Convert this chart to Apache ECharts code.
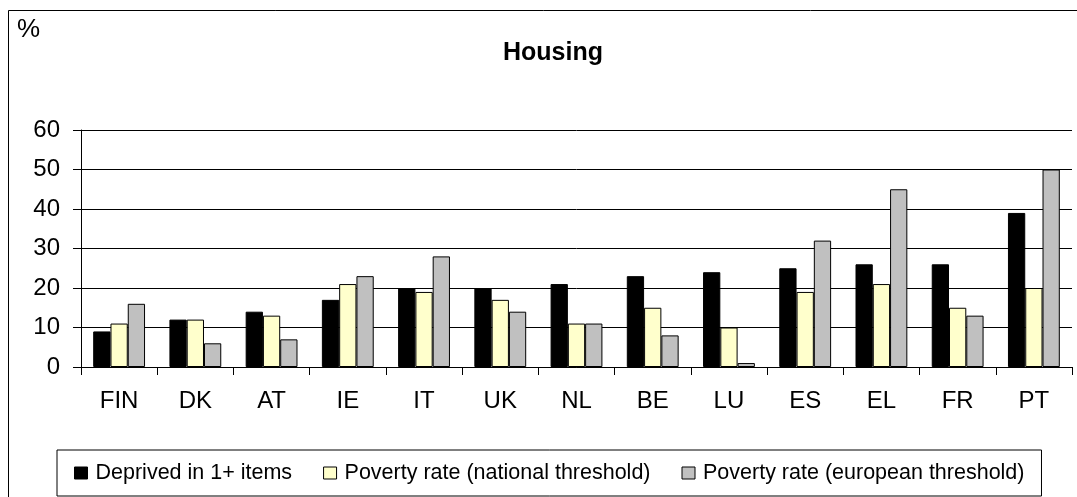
<!DOCTYPE html>
<html>
<head>
<meta charset="utf-8">
<script src="https://cdn.jsdelivr.net/npm/echarts@6/dist/echarts.min.js"></script>
<style>
  html, body { margin: 0; padding: 0; background: #fff; }
  #chart { width: 1077px; height: 497px; }
</style>
</head>
<body>
<div id="chart"></div>
<script>
// Countries along the category axis
const countries = ['FIN', 'DK', 'AT', 'IE', 'IT', 'UK', 'NL', 'BE', 'LU', 'ES', 'EL', 'FR', 'PT'];

// Share of people (%) per indicator
const deprived = [9, 12, 14, 17, 20, 20, 21, 23, 24, 25, 26, 26, 39];
const povertyNational = [11, 12, 13, 21, 19, 17, 11, 15, 10, 19, 21, 15, 20];
const povertyEuropean = [16, 6, 7, 23, 28, 14, 11, 8, 1, 32, 45, 13, 50];

const yTicks = [0, 10, 20, 30, 40, 50, 60];

const seriesNames = [
  'Deprived in 1+ items',
  'Poverty rate (national threshold)',
  'Poverty rate (european threshold)'
];

const FONT = '"Liberation Sans", Arial, sans-serif';

const chart = echarts.init(document.getElementById('chart'), null, { renderer: 'canvas' });

function barSeries(name, data, color) {
  return {
    name: name,
    type: 'bar',
    data: data,
    barGap: '0%',
    barCategoryGap: '32%',
    itemStyle: { color: color, borderColor: '#000', borderWidth: 1 },
    emphasis: { disabled: true }
  };
}

chart.setOption({
  animation: false,
  backgroundColor: '#fff',
  textStyle: { fontFamily: FONT },
  title: {
    text: 'Housing',
    left: 548,
    textAlign: 'center',
    top: 36,
    textStyle: { fontFamily: FONT, fontSize: 25, fontWeight: 'bold', color: '#000' }
  },
  graphic: [
    {
      type: 'rect',
      shape: { x: 8.5, y: 10.5, width: 1200, height: 700 },
      style: { fill: 'none', stroke: '#000', lineWidth: 1 },
      silent: true,
      z: -1
    },
    {
      type: 'text',
      left: 17,
      top: 17,
      style: { text: '%', font: '26px ' + FONT, fill: '#000' }
    }
  ],
  legend: {
    left: 57,
    top: 450,
    padding: [12, 17, 12, 17],
    itemGap: 31,
    itemWidth: 13,
    itemHeight: 12,
    borderColor: '#000',
    borderWidth: 1,
    icon: 'rect',
    selectedMode: false,
    textStyle: { fontFamily: FONT, fontSize: 21.5, color: '#000', padding: [0, 0, 0, 3] },
    data: seriesNames.map(n => ({ name: n, itemStyle: { borderColor: '#000', borderWidth: 1 } }))
  },
  grid: {
    left: 81,
    right: 5,
    top: 130,
    bottom: 130,
    containLabel: false
  },
  xAxis: {
    type: 'category',
    data: countries,
    axisLine: { lineStyle: { color: '#000', width: 1 } },
    axisTick: { show: true, length: 8, lineStyle: { color: '#000' }, alignWithLabel: false },
    axisLabel: { fontFamily: FONT, fontSize: 24, color: '#000', margin: 22 },
    splitLine: { show: false }
  },
  yAxis: {
    type: 'value',
    min: yTicks[0],
    max: yTicks[yTicks.length - 1],
    interval: 10,
    axisLine: { show: true, lineStyle: { color: '#000', width: 1 } },
    axisTick: { show: true, length: 8, lineStyle: { color: '#000' } },
    axisLabel: { fontFamily: FONT, fontSize: 24, color: '#000', margin: 21 },
    splitLine: { show: true, lineStyle: { color: '#000', width: 1 } }
  },
  series: [
    barSeries(seriesNames[0], deprived, '#000000'),
    barSeries(seriesNames[1], povertyNational, '#FFFFCC'),
    barSeries(seriesNames[2], povertyEuropean, '#C0C0C0')
  ]
});
</script>
</body>
</html>
